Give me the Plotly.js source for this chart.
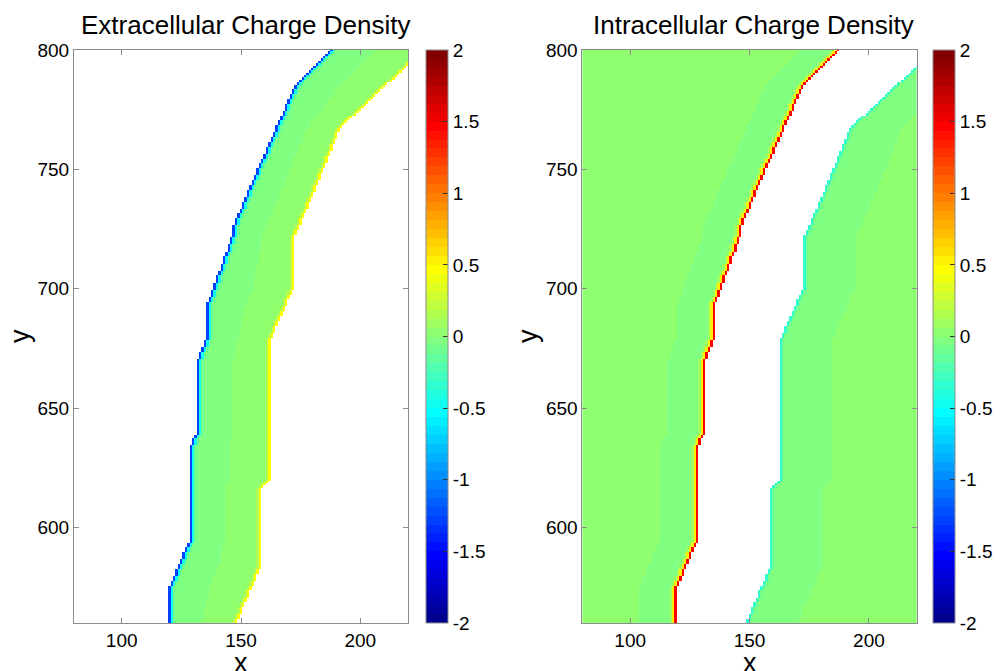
<!DOCTYPE html>
<html><head><meta charset="utf-8">
<script src="https://cdn.plot.ly/plotly-3.0.1.min.js"></script>
<style>html,body{margin:0;padding:0;background:#fff}</style>
</head><body>
<div id="chart" style="width:1000px;height:671px"></div>
<script>
// ---- data ----
const xValues = []; for (let v = 80; v <= 220; v++) xValues.push(v);   // grid columns
const yValues = []; for (let v = 560; v <= 800; v++) yValues.push(v);  // grid rows
// membrane boundaries (vertices of the staircase outlines)
const leftBoundaryY  = [560, 574.6, 594.3, 633.3, 637.5, 638.9, 668.9, 680.8, 693.3, 721.9, 726.4, 741.4, 784, 800];
const leftBoundaryX  = [120.2, 120.2, 128.8, 129.2, 130.3, 132, 132, 136.2, 136.2, 146.7, 147.4, 153.6, 172.5, 188];
const rightBoundaryY = [560, 583.1, 615.9, 619.5, 678, 680.8, 700.3, 720.5, 741.4, 767.2, 793.7, 800];
const rightBoundaryX = [147.8, 157.8, 157.8, 161.5, 161.6, 163, 171.8, 171.8, 180.8, 191.3, 219.7, 226.5];
// charge density values next to the boundaries
const extraLeftEdge   = [-1.28, -0.45, -0.12];  // inward from left boundary
const extraRightEdge  = [0.45, 0.15];           // inward from right boundary
const intraLeftEdge   = [1.45, 0.5, 0.1];       // outward from left boundary
const intraRightEdge  = [-0.32, -0.1];          // outward from right boundary
const bulkLow = -0.02, bulkHigh = 0.02;
const intraStripeLeft = 16, intraStripeRight = 22; // widths of the slightly negative stripe
const cbTicks = [-2, -1.5, -1, -0.5, 0, 0.5, 1, 1.5, 2];
const cbLabels = ['-2', '-1.5', '-1', '-0.5', '0', '0.5', '1', '1.5', '2'];
const titles = ['Extracellular Charge Density', 'Intracellular Charge Density'];
const xLabel = 'x', yLabel = 'y';

// ---- build fields ----
function interp(ys, xs, y) {
  for (let i = 0; i < ys.length - 1; i++) {
    if (y >= ys[i] && y <= ys[i + 1]) {
      const t = (y - ys[i]) / (ys[i + 1] - ys[i]);
      return xs[i] + t * (xs[i + 1] - xs[i]);
    }
  }
  return y < ys[0] ? xs[0] : xs[xs.length - 1];
}
const zExtra = [], zIntra = [];
yValues.forEach(y => {
  const xl = Math.round(interp(leftBoundaryY, leftBoundaryX, y));
  const xr = Math.round(interp(rightBoundaryY, rightBoundaryX, y));
  const rowE = [], rowI = [];
  xValues.forEach(x => {
    if (x >= xl && x <= xr) {
      const d0 = x - xl, d1 = xr - x;
      let v;
      if (d0 < extraLeftEdge.length) v = extraLeftEdge[d0];
      else if (d1 < extraRightEdge.length) v = extraRightEdge[d1];
      else v = (d0 < (xr - xl) / 2) ? bulkLow : bulkHigh;
      rowE.push(v); rowI.push(null);
    } else if (x < xl) {
      const d = xl - x;
      rowE.push(null);
      rowI.push(d <= intraLeftEdge.length ? intraLeftEdge[d - 1] : (d <= intraStripeLeft ? bulkLow : bulkHigh));
    } else {
      const d = x - xr;
      rowE.push(null);
      rowI.push(d <= intraRightEdge.length ? intraRightEdge[d - 1] : (d <= intraStripeRight ? bulkLow : bulkHigh));
    }
  });
  zExtra.push(rowE); zIntra.push(rowI);
});

// ---- MATLAB jet(64), discrete ----
function jet(m) {
  const n = Math.ceil(m / 4);
  const u = [];
  for (let i = 1; i <= n; i++) u.push(i / n);
  for (let i = 1; i < n; i++) u.push(1);
  for (let i = n; i >= 1; i--) u.push(i / n);
  const g0 = Math.ceil(n / 2) - (m % 4 === 1 ? 1 : 0);
  const J = []; for (let k = 0; k < m; k++) J.push([0, 0, 0]);
  for (let i = 1; i <= u.length; i++) {
    const g = g0 + i, r = g + n, b = g - n;
    if (r >= 1 && r <= m) J[r - 1][0] = u[i - 1];
    if (g >= 1 && g <= m) J[g - 1][1] = u[i - 1];
    if (b >= 1 && b <= m) J[b - 1][2] = u[i - 1];
  }
  return J.map(c => 'rgb(' + c.map(v => Math.round(v * 255)).join(',') + ')');
}
const jc = jet(64);
const colorscale = [];
jc.forEach((c, i) => { colorscale.push([i / 64, c]); colorscale.push([(i + 1) / 64, c]); });

const FONT = 'Liberation Sans, Arial, Helvetica, sans-serif';
const cbBase = {
  thickness: 22, thicknessmode: 'pixels', len: 573 / 671, lenmode: 'fraction',
  y: 1 - 336.5 / 671, yanchor: 'middle', xanchor: 'left', xpad: 0, ypad: 0,
  outlinewidth: 1, outlinecolor: '#8c8c8c',
  tickmode: 'array', tickvals: cbTicks, ticktext: cbLabels,
  ticks: 'inside', ticklen: 5, tickcolor: '#333', tickfont: {size: 19, color: '#000', family: FONT}
};
const traces = [
  {type: 'heatmap', x: xValues, y: yValues, z: zExtra, xaxis: 'x', yaxis: 'y',
   colorscale: colorscale, zmin: -2, zmax: 2, zsmooth: false, hoverinfo: 'skip',
   colorbar: Object.assign({}, cbBase, {x: 426 / 1000})},
  {type: 'heatmap', x: xValues, y: yValues, z: zIntra, xaxis: 'x2', yaxis: 'y2',
   colorscale: colorscale, zmin: -2, zmax: 2, zsmooth: false, hoverinfo: 'skip',
   colorbar: Object.assign({}, cbBase, {x: 933 / 1000})}
];
const ax = {
  showline: true, mirror: 'ticks', linecolor: '#8c8c8c', linewidth: 1,
  ticks: 'inside', ticklen: 5, tickcolor: '#8c8c8c', showgrid: false, zeroline: false,
  tickfont: {size: 19, color: '#000', family: FONT}, autorange: false
};
const xax = Object.assign({}, ax, {range: [80, 220], tickmode: 'array', tickvals: [100, 150, 200]});
const yax = Object.assign({}, ax, {range: [560, 800], tickmode: 'array', tickvals: [600, 650, 700, 750, 800]});
const yDom = [48 / 671, 621 / 671];
const plotCenters = [0.241, 0.7495];
const ylabelX = [20 / 1000, 528 / 1000];
const annotations = [];
titles.forEach((t, i) => {
  annotations.push({text: t, xref: 'paper', yref: 'paper', x: plotCenters[i] + 0.004, y: 1 - 25 / 671,
    xanchor: 'center', yanchor: 'middle', showarrow: false, font: {size: 26, color: '#000', family: FONT}});
  annotations.push({text: xLabel, xref: 'paper', yref: 'paper', x: plotCenters[i], y: 1 - 663 / 671,
    xanchor: 'center', yanchor: 'middle', showarrow: false, font: {size: 27, color: '#000', family: FONT}});
  annotations.push({text: yLabel, xref: 'paper', yref: 'paper', x: ylabelX[i], y: 1 - 336 / 671, textangle: -90,
    xanchor: 'center', yanchor: 'middle', showarrow: false, font: {size: 27, color: '#000', family: FONT}});
});
const layout = {
  width: 1000, height: 671, margin: {l: 0, r: 0, t: 0, b: 0},
  paper_bgcolor: '#fff', plot_bgcolor: '#fff', showlegend: false,
  font: {family: FONT, color: '#000'},
  xaxis: Object.assign({}, xax, {domain: [0.074, 0.408], anchor: 'y'}),
  yaxis: Object.assign({}, yax, {domain: yDom, anchor: 'x'}),
  xaxis2: Object.assign({}, xax, {domain: [0.5824, 0.9167], anchor: 'y2'}),
  yaxis2: Object.assign({}, yax, {domain: yDom, anchor: 'x2'}),
  annotations: annotations
};
Plotly.newPlot('chart', traces, layout, {staticPlot: true, displayModeBar: false});
</script>
</body></html>
